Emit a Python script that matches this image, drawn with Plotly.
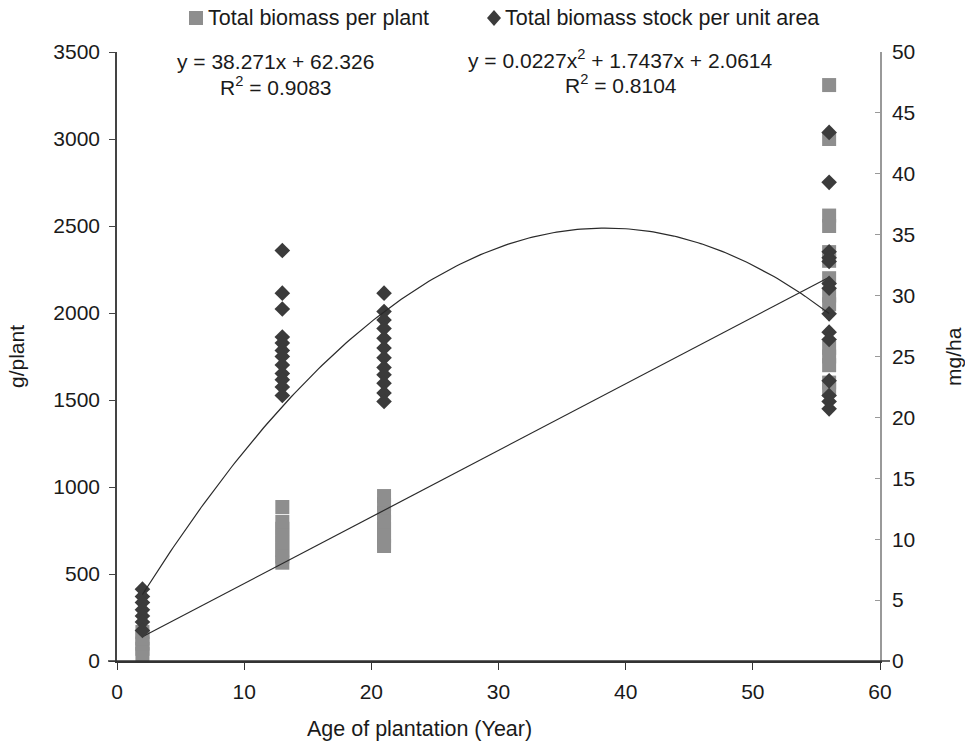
import numpy as np
import plotly.graph_objects as go

# ---- data ----
plant_age = [2]*5 + [13]*8 + [21]*8 + [56]*14
biomass_per_plant = [40, 70, 100, 130, 167,
                     885, 800, 760, 720, 680, 640, 600, 565,
                     948, 900, 850, 800, 760, 720, 680, 661,
                     3310, 3000, 2560, 2500, 2350, 2300, 2200, 2100, 2050, 1800, 1750, 1700, 1600, 1560]

stock_age = [2]*7 + [13]*12 + [21]*12 + [56]*14
biomass_stock = [5.9, 5.3, 4.8, 4.2, 3.7, 3.2, 2.5,
                 33.7, 30.2, 28.9, 26.6, 26.1, 25.5, 25.0, 24.3, 23.6, 23.1, 22.5, 21.8,
                 30.2, 28.7, 28.0, 27.3, 26.5, 25.7, 24.9, 24.1, 23.5, 22.8, 22.0, 21.3,
                 43.4, 39.3, 33.6, 33.1, 32.8, 31.0, 30.6, 28.5, 27.0, 26.4, 23.0, 21.8, 21.3, 20.7]

# trendline coefficients as printed on the chart (quadratic is drawn concave)
lin_slope, lin_icpt = 38.271, 62.326
quad_a, quad_b, quad_c = -0.0227, 1.7437, 2.0614
trend_x_range = [2, 56]

series_names = ["Total biomass per plant", "Total biomass stock per unit area"]
eq_texts = ["y = 38.271x + 62.326", "y = 0.0227x<sup>2</sup> + 1.7437x + 2.0614"]
r2_texts = ["R<sup>2</sup> = 0.9083", "R<sup>2</sup> = 0.8104"]

SQ_COLOR = "#8e8e8e"
DM_COLOR = "#3b3b3b"
FONT = "Liberation Sans, Arial, sans-serif"

fig = go.Figure()
fig.add_trace(go.Scatter(
    x=plant_age, y=biomass_per_plant, mode="markers", name=series_names[0],
    marker=dict(symbol="square", size=14, color=SQ_COLOR), showlegend=False))
fig.add_trace(go.Scatter(
    x=stock_age, y=biomass_stock, mode="markers", name=series_names[1],
    marker=dict(symbol="diamond", size=12, color=DM_COLOR), yaxis="y2", showlegend=False))

lx = np.array(trend_x_range, dtype=float)
fig.add_trace(go.Scatter(x=lx, y=lin_slope*lx + lin_icpt, mode="lines",
                         line=dict(color="#2a2a2a", width=1.2), showlegend=False, hoverinfo="skip"))
qx = np.linspace(trend_x_range[0], trend_x_range[1], 200)
fig.add_trace(go.Scatter(x=qx, y=quad_a*qx**2 + quad_b*qx + quad_c, mode="lines", yaxis="y2",
                         line=dict(color="#2a2a2a", width=1.2), showlegend=False, hoverinfo="skip"))

PX0, PY0, PW, PH = 117, 661, 763, 609  # plot area left, bottom, width, height (px)
def px(x):
    return (x - PX0) / PW
def py(y):
    return (PY0 - y) / PH

ann = [
    dict(text=series_names[0], x=px(206), y=py(18), xanchor="left", yanchor="middle",
         font=dict(size=21.5)),
    dict(text=series_names[1], x=px(503), y=py(18), xanchor="left", yanchor="middle",
         font=dict(size=21.5)),
    dict(text=eq_texts[0], x=px(275), y=py(62), xanchor="center", yanchor="middle", font=dict(size=21)),
    dict(text=r2_texts[0], x=px(276), y=py(86), xanchor="center", yanchor="middle", font=dict(size=21)),
    dict(text=eq_texts[1], x=px(620), y=py(59), xanchor="center", yanchor="middle", font=dict(size=21)),
    dict(text=r2_texts[1], x=px(621), y=py(84), xanchor="center", yanchor="middle", font=dict(size=21)),
    dict(text="g/plant", textangle=-90, x=px(17), y=py(357), xanchor="center", yanchor="middle",
         font=dict(size=21)),
    dict(text="mg/ha", textangle=-90, x=px(954), y=py(357), xanchor="center", yanchor="middle",
         font=dict(size=21)),
    dict(text="Age of plantation (Year)", x=px(419), y=py(729), xanchor="center",
         yanchor="middle", font=dict(size=21.5)),
]
for a in ann:
    a.update(xref="paper", yref="paper", showarrow=False)

# legend keys and the x-axis line overhang past both vertical axes
shapes = [
    dict(type="rect", xref="paper", yref="paper", x0=px(189), x1=px(203), y0=py(25), y1=py(11),
         fillcolor=SQ_COLOR, line=dict(width=0)),
    dict(type="path", xref="paper", yref="paper",
         path=(f"M {px(494)},{py(10)} L {px(501)},{py(18)} L {px(494)},{py(26)} "
               f"L {px(487)},{py(18)} Z"),
         fillcolor=DM_COLOR, line=dict(width=0)),
    dict(type="line", xref="paper", yref="paper", x0=px(108), x1=px(890), y0=0, y1=0,
         line=dict(color="#333", width=1.5)),
]

fig.update_layout(
    width=965, height=742,
    margin=dict(l=117, r=85, t=52, b=81),
    paper_bgcolor="white", plot_bgcolor="white",
    font=dict(family=FONT, size=21, color="#1a1a1a"),
    annotations=ann, shapes=shapes,
    xaxis=dict(range=[0, 60], dtick=10, ticks="outside", ticklen=7, tickcolor="#333",
               showline=True, linecolor="#333", linewidth=1.5, showgrid=False, zeroline=False,
               tickfont=dict(size=21), ticklabelstandoff=4),
    yaxis=dict(range=[0, 3500], dtick=500, ticks="outside", ticklen=6, tickcolor="#444",
               showline=True, linecolor="#444", linewidth=1.5, showgrid=False, zeroline=False,
               tickfont=dict(size=21), ticklabelstandoff=5),
    yaxis2=dict(range=[0, 50], dtick=5, overlaying="y", side="right", ticks="inside", ticklen=5,
                tickcolor="#999", showline=True, linecolor="#999", linewidth=1.5, showgrid=False,
                zeroline=False, tickfont=dict(size=21), ticklabelstandoff=6),
)

fig.write_html("out.html", config={"displayModeBar": False},
               post_script="document.body.style.margin='0px';")
